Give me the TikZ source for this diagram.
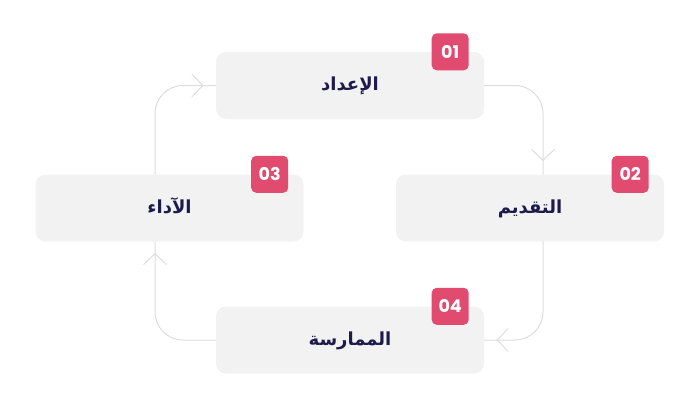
\documentclass[tikz,border=0pt]{standalone}
\usepackage{fontspec}
\TeXXeTstate=1
\newfontfamily\arabicfont[Script=Arabic]{DejaVu Sans}
\newfontfamily\popfont{Poppins}
\usetikzlibrary{calc}
\definecolor{boxfill}{HTML}{F2F2F2}
\definecolor{badgecol}{HTML}{E04B6F}
\definecolor{txtcol}{HTML}{1E1A4C}
\definecolor{linecol}{HTML}{DDDDDD}
\newcommand{\steplabel}[1]{\beginR #1\endR}
\begin{document}
\begin{tikzpicture}[x=1pt,y=-1pt,
  stepbox/.style={fill=boxfill, rounded corners=10pt, minimum width=268pt, minimum height=67pt, inner sep=0pt,
    text height=10pt, text depth=0pt,
    font=\arabicfont\bfseries\fontsize{18}{22}\selectfont, text=txtcol},
  badge/.style={fill=badgecol, rounded corners=5pt, minimum width=37pt, minimum height=37pt, inner sep=0pt,
    text=white, font=\popfont\bfseries\fontsize{17.5}{20}\selectfont},
  conn/.style={draw=linecol, line width=1pt, rounded corners=28pt},
  chev/.style={draw=linecol, line width=1pt, line join=miter}
]
\useasboundingbox (0,0) rectangle (700,415);
% boxes
\node[stepbox] (top) at (350,85.5) {\steplabel{الإعداد}};
\node[stepbox] (right) at (530,208) {\steplabel{التقديم}};
\node[stepbox] (left) at (169.5,208) {\steplabel{الآداء}};
\node[stepbox] (bottom) at (350,340) {\steplabel{الممارسة}};
% badges
\node[badge] (b1) at ($(top.north east)+(-34,0)$) {01};
\node[badge] (b2) at ($(right.north east)+(-34,0)$) {02};
\node[badge] (b3) at ($(left.north east)+(-34,0)$) {03};
\node[badge] (b4) at ($(bottom.north east)+(-34,0)$) {04};
% connector end points
\coordinate (rin) at ($(right.north)+(13,0)$);
\coordinate (rout) at ($(right.south)+(13,0)$);
\coordinate (lin) at ($(left.south)+(-14.5,0)$);
\coordinate (lout) at ($(left.north)+(-14.5,0)$);
% connectors
\draw[conn] (top.east) -| (rin);
\draw[conn] (rout) |- (bottom.east);
\draw[conn] (bottom.west) -| (lin);
\draw[conn] (lout) |- (top.west);
% chevrons
\draw[chev] ($(rin)+(-11.5,-25)$) -- ($(rin)+(0,-14)$) -- ($(rin)+(11.5,-25)$);
\draw[chev] ($(bottom.east)+(24,-11.5)$) -- ($(bottom.east)+(13,0)$) -- ($(bottom.east)+(24,11.5)$);
\draw[chev] ($(lin)+(-11.5,23)$) -- ($(lin)+(0,12)$) -- ($(lin)+(11.5,23)$);
\draw[chev] ($(top.west)+(-24,-11.5)$) -- ($(top.west)+(-13,0)$) -- ($(top.west)+(-24,11.5)$);
\end{tikzpicture}
\end{document}
